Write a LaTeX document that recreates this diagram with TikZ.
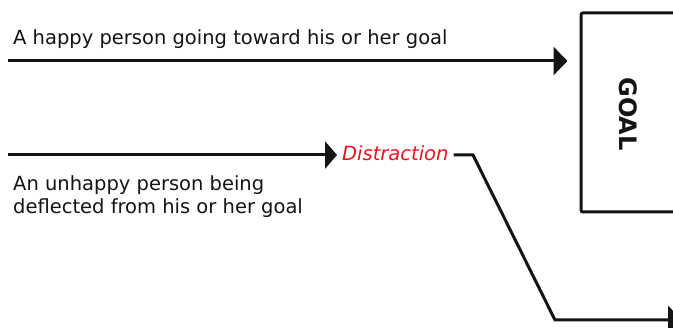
\documentclass[tikz,border=0pt]{standalone}
\usepackage{fontspec}
\setmainfont{DejaVu Sans}
\usetikzlibrary{arrows.meta}
\definecolor{ink}{RGB}{20,20,20}
\definecolor{alert}{RGB}{235,20,30}
\tikzset{
  conn/.style={draw=ink, line width=3pt},
  bigtip/.style={-{Triangle[length=14pt,width=28pt]}},
  smalltip/.style={-{Triangle[length=12pt,width=27pt]}},
  caption/.style={inner sep=0pt, text=ink, font=\fontsize{19.5}{23}\selectfont, align=left},
}
\begin{document}
\begin{tikzpicture}[x=1pt, y=-1pt]
  \useasboundingbox (0,0) rectangle (673,328);
  \clip (0,0) rectangle (673,328);
  \fill[white] (0,0) rectangle (673,328);

  % goal box, running off the right edge
  \node[draw=ink, line width=3pt, rounded corners=2pt, minimum width=122pt,
        minimum height=199pt, inner sep=0pt] (goal) at (642,112.5) {};
  \node[rotate=-90, inner sep=0pt, text=ink,
        font=\fontsize{24}{28}\selectfont\bfseries] (goallabel) at (628,114) {GOAL};

  % the direct path
  \node[caption, anchor=base west] (happy) at (13,45)
    {A happy person going toward his or her goal};
  \coordinate (s1) at (8,61);
  \draw[conn, bigtip, shorten >=12pt] (s1) -- (goal.west |- s1);

  % the deflected path
  \coordinate (s2) at (8,155);
  \node[inner xsep=5pt, inner ysep=0pt, anchor=base west, text=alert,
        font=\fontsize{19.5}{23}\selectfont\itshape] (dist) at (337,161) {Distraction};
  \draw[conn, smalltip] (s2) -- (s2 -| dist.west);
  \coordinate (k1) at (473,155);
  \coordinate (k2) at (555,320);
  \coordinate (e2) at (682,320);
  \draw[conn, bigtip] (dist.east |- s2) -- (k1) -- (k2) -- (e2);

  \node[caption, anchor=north west] (unhappy) at (13,175.5)
    {An unhappy person being\\deflected from his or her goal};
\end{tikzpicture}
\end{document}
